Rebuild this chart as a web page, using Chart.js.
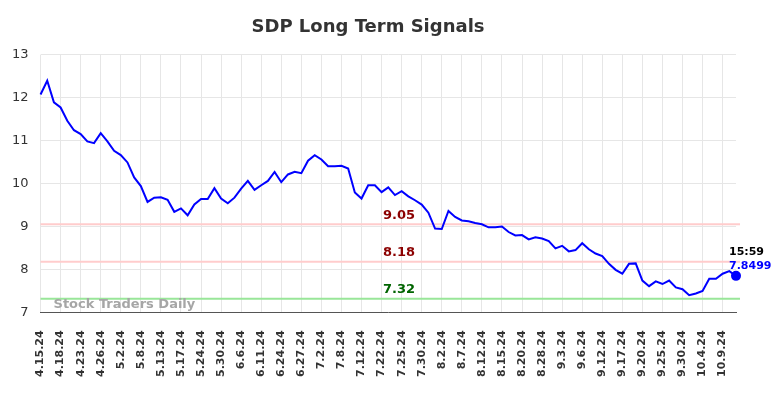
<!DOCTYPE html>
<html>
<head>
<meta charset="utf-8">
<script src="https://cdn.jsdelivr.net/npm/chart.js@4.4.1/dist/chart.umd.min.js"></script>
<style>
  html, body { margin: 0; padding: 0; background: #fff; }
  #wrap { width: 784px; height: 398px; }
</style>
</head>
<body>
<div id="wrap"><canvas id="chart" width="784" height="398"></canvas></div>
<script>
// trading days (every third one is shown on the axis)
const dates = [
  '4.15.24','4.16.24','4.17.24','4.18.24','4.19.24','4.22.24','4.23.24','4.24.24','4.25.24',
  '4.26.24','4.29.24','4.30.24','5.2.24','5.3.24','5.6.24','5.8.24','5.9.24','5.10.24',
  '5.13.24','5.14.24','5.15.24','5.17.24','5.20.24','5.22.24','5.24.24','5.28.24','5.29.24',
  '5.30.24','6.3.24','6.4.24','6.6.24','6.7.24','6.10.24','6.11.24','6.14.24','6.20.24',
  '6.24.24','6.25.24','6.26.24','6.27.24','6.28.24','7.1.24','7.2.24','7.3.24','7.5.24',
  '7.8.24','7.10.24','7.11.24','7.12.24','7.16.24','7.19.24','7.22.24','7.23.24','7.24.24',
  '7.25.24','7.26.24','7.29.24','7.30.24','7.31.24','8.1.24','8.2.24','8.5.24','8.6.24',
  '8.7.24','8.8.24','8.9.24','8.12.24','8.13.24','8.14.24','8.15.24','8.16.24','8.19.24',
  '8.20.24','8.22.24','8.26.24','8.28.24','8.29.24','8.30.24','9.3.24','9.4.24','9.5.24',
  '9.6.24','9.10.24','9.11.24','9.12.24','9.13.24','9.16.24','9.17.24','9.18.24','9.19.24',
  '9.20.24','9.23.24','9.24.24','9.25.24','9.26.24','9.27.24','9.30.24','10.2.24','10.3.24',
  '10.4.24','10.7.24','10.8.24','10.9.24','10.10.24','10.11.24'
];

const prices = [
  12.07, 12.39, 11.89, 11.77, 11.46, 11.24, 11.15, 10.98, 10.94, 11.17,
  10.98, 10.76, 10.66, 10.49, 10.14, 9.94, 9.57, 9.67, 9.68, 9.62,
  9.34, 9.42, 9.26, 9.51, 9.64, 9.64, 9.89, 9.65, 9.54, 9.67,
  9.88, 10.06, 9.85, 9.96, 10.06, 10.27, 10.03, 10.21, 10.27, 10.24,
  10.53, 10.66, 10.56, 10.40, 10.40, 10.41, 10.35, 9.79, 9.65, 9.96,
  9.96, 9.80, 9.91, 9.73, 9.82, 9.70, 9.61, 9.51, 9.32, 8.95,
  8.94, 9.36, 9.22, 9.14, 9.12, 9.08, 9.05, 8.98, 8.98, 9.00,
  8.87, 8.79, 8.80, 8.70, 8.75, 8.72, 8.66, 8.49, 8.55, 8.42,
  8.45, 8.61, 8.47, 8.37, 8.31, 8.13, 7.99, 7.90, 8.13, 8.14,
  7.74, 7.61, 7.72, 7.66, 7.74, 7.58, 7.54, 7.40, 7.44, 7.50,
  7.78, 7.78, 7.90, 7.96, 7.8499
];

const signalLevels = [9.05, 8.18, 7.32];
const signalLineColors = ['#ffcccc', '#ffcccc', '#99e699'];
const signalTextColors = ['#8b0000', '#8b0000', '#006400'];
const lastTime = '15:59';

// signal lines, watermark, labels
const overlay = {
  id: 'overlay',
  beforeDatasetsDraw(chart) {
    const { ctx, chartArea: a, scales: { y } } = chart;
    ctx.save();
    signalLevels.forEach((lvl, i) => {
      const py = y.getPixelForValue(lvl);
      ctx.strokeStyle = signalLineColors[i];
      ctx.lineWidth = 2;
      ctx.beginPath();
      ctx.moveTo(a.left, py);
      ctx.lineTo(a.right + 4, py);
      ctx.stroke();
    });
    ctx.font = 'bold 13px "DejaVu Sans"';
    ctx.fillStyle = '#a6a6a6';
    ctx.textAlign = 'left';
    ctx.textBaseline = 'middle';
    ctx.fillText('Stock Traders Daily', a.left + 13, a.bottom - 8);
    ctx.restore();
  },
  afterDatasetsDraw(chart) {
    const { ctx, scales: { x, y } } = chart;
    ctx.save();
    ctx.font = 'bold 13px "DejaVu Sans"';
    ctx.textAlign = 'center';
    ctx.textBaseline = 'middle';
    signalLevels.forEach((lvl, i) => {
      ctx.fillStyle = signalTextColors[i];
      ctx.fillText(lvl.toFixed(2), 399, y.getPixelForValue(lvl) - 9);
    });
    const n = prices.length - 1;
    const px = x.getPixelForValue(n);
    const py = y.getPixelForValue(prices[n]);
    ctx.font = 'bold 11px "DejaVu Sans"';
    ctx.textAlign = 'left';
    ctx.fillStyle = '#000';
    ctx.fillText(lastTime, px - 7, py - 24);
    ctx.fillStyle = '#0000ff';
    ctx.fillText(String(prices[n]), px - 7, py - 10);
    ctx.restore();
  }
};

new Chart(document.getElementById('chart'), {
  type: 'line',
  data: {
    labels: dates,
    datasets: [{
      data: prices,
      borderColor: '#0000ff',
      backgroundColor: '#0000ff',
      borderWidth: 2,
      tension: 0,
      pointRadius: prices.map((v, i) => i === prices.length - 1 ? 4 : 0),
      pointHoverRadius: 0
    }]
  },
  options: {
    responsive: false,
    animation: false,
    layout: { padding: { left: 0, right: 48, top: 0, bottom: 3 } },
    plugins: {
      legend: { display: false },
      tooltip: { enabled: false },
      title: {
        display: true,
        text: 'SDP Long Term Signals',
        color: '#333',
        font: { family: 'DejaVu Sans', size: 18, weight: 'bold' },
        padding: { top: 17, bottom: 16 }
      }
    },
    scales: {
      x: {
        grid: { color: '#e6e6e6', drawTicks: false },
        border: { color: '#555', width: 1 },
        ticks: {
          autoSkip: false,
          maxRotation: 90,
          minRotation: 90,
          padding: 18,
          color: '#333',
          font: { family: 'DejaVu Sans', size: 11, weight: 'bold' },
          callback: (v, i) => (i % 3 === 0 ? dates[i] : null)
        }
      },
      y: {
        min: 7,
        max: 13,
        grid: { color: '#e6e6e6', drawTicks: false },
        border: { display: false },
        ticks: {
          stepSize: 1,
          padding: 12,
          color: '#333',
          font: { family: 'DejaVu Sans', size: 13 }
        }
      }
    }
  },
  plugins: [overlay]
});
</script>
</body>
</html>
